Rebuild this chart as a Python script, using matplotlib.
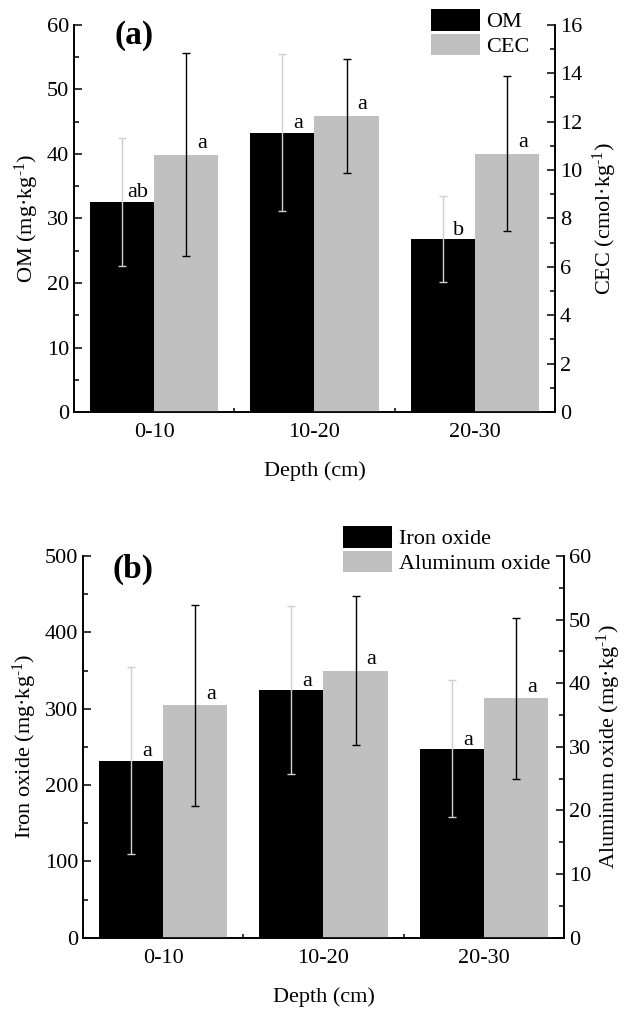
import matplotlib
matplotlib.use("Agg")
import matplotlib.pyplot as plt
import numpy as np
from matplotlib.patches import Patch
from matplotlib.ticker import MultipleLocator

plt.rcParams['font.family'] = ['Liberation Serif', 'DejaVu Serif']
plt.rcParams['mathtext.fontset'] = 'custom'
plt.rcParams['mathtext.rm'] = 'Liberation Serif'
plt.rcParams['mathtext.default'] = 'regular'
plt.rcParams['font.size'] = 16

# Data
depths = ['0-10', '10-20', '20-30']

om_mean = [32.6, 43.3, 26.8]
om_err = [9.9, 12.2, 6.6]
om_letters = ['ab', 'a', 'b']
cec_mean = [10.64, 12.22, 10.68]
cec_err = [4.2, 2.36, 3.2]
cec_letters = ['a', 'a', 'a']

fe_mean = [231.9, 324.5, 247.6]
fe_err = [122.7, 110.0, 90.0]
fe_letters = ['a', 'a', 'a']
al_mean = [36.5, 42.0, 37.6]
al_err = [15.8, 11.7, 12.7]
al_letters = ['a', 'a', 'a']

BLACK = 'black'
GRAY = '#c0c0c0'
W = 0.4


def style_axis(ax, side):
    ax.tick_params(axis='y', which='major', direction='in', length=6, width=1.1, labelsize=16)
    ax.tick_params(axis='y', which='minor', direction='in', length=3.5, width=1.1)
    if side == 'left':
        ax.tick_params(axis='x', which='major', direction='in', length=5, width=1.1, labelsize=16, pad=8)
        ax.tick_params(axis='x', which='minor', direction='in', length=3, width=1.1)
    for s in ax.spines.values():
        s.set_linewidth(1.2)
    ax.spines['top'].set_visible(False)


def panel(fig, rect, left_mean, left_err, left_let, right_mean, right_err, right_let,
          left_lim, left_major, right_lim, right_major, left_label, right_label,
          tag, tag_pos, legend_labels, leg_anchor, rpad):
    ax = fig.add_axes(rect)
    ax2 = ax.twinx()
    x = np.arange(len(depths))
    ax.bar(x - W / 2, left_mean, W, color=BLACK, zorder=2)
    ax.errorbar(x - W / 2, left_mean, yerr=left_err, fmt='none', ecolor='#d0d0d0',
                elinewidth=1, capsize=3, capthick=1, zorder=3)
    ax2.bar(x + W / 2, right_mean, W, color=GRAY, zorder=2)
    ax2.errorbar(x + W / 2, right_mean, yerr=right_err, fmt='none', ecolor='black',
                 elinewidth=1, capsize=3, capthick=1, zorder=3)
    for xi, m, t in zip(x - W / 2, left_mean, left_let):
        ax.annotate(t, (xi + 0.1, m), xytext=(0, 3), textcoords='offset points',
                    ha='center', va='baseline', fontsize=16, zorder=4)
    for xi, m, t in zip(x + W / 2, right_mean, right_let):
        ax2.annotate(t, (xi + 0.1, m), xytext=(0, 5), textcoords='offset points',
                     ha='center', va='baseline', fontsize=16, zorder=4)

    ax.set_xlim(-0.5, 2.5)
    ax.set_xticks(x)
    ax.set_xticklabels(depths)
    ax.xaxis.set_minor_locator(MultipleLocator(0.5))
    ax.set_ylim(*left_lim)
    ax.yaxis.set_major_locator(MultipleLocator(left_major))
    ax.yaxis.set_minor_locator(MultipleLocator(left_major / 2))
    ax2.set_ylim(*right_lim)
    ax2.yaxis.set_major_locator(MultipleLocator(right_major))
    ax2.yaxis.set_minor_locator(MultipleLocator(right_major / 2))
    style_axis(ax, 'left')
    style_axis(ax2, 'right')

    ax.set_xlabel('Depth (cm)', fontsize=16, labelpad=14)
    ax.set_ylabel(left_label, fontsize=16, labelpad=4)
    ax2.set_ylabel(right_label, fontsize=16, labelpad=rpad)

    ax.text(tag_pos[0], tag_pos[1], tag, transform=ax.transAxes, fontsize=24,
            fontweight='bold', ha='left', va='center')

    handles = [Patch(facecolor=BLACK, edgecolor='none'), Patch(facecolor=GRAY, edgecolor='none')]
    ax2.legend(handles, legend_labels, loc='upper left', bbox_to_anchor=leg_anchor,
               frameon=False, borderpad=0, borderaxespad=0, handlelength=2.2,
               handleheight=1.1, labelspacing=0.05, handletextpad=0.3, fontsize=16)
    return ax, ax2


def main():
    fig = plt.figure(figsize=(6.25, 10.1), dpi=100)

    panel(fig, [0.1184, 0.592, 0.7696, 0.3835],
          om_mean, om_err, om_letters, cec_mean, cec_err, cec_letters,
          (0, 60), 10, (0, 16), 2,
          r'OM (mg·kg$^{\text{-1}}$)', r'CEC (cmol·kg$^{\text{-1}}$)',
          '(a)', (0.085, 0.972), ['OM', 'CEC'], (0.742, 1.04), 6)

    panel(fig, [0.1328, 0.0716, 0.7696, 0.3779],
          fe_mean, fe_err, fe_letters, al_mean, al_err, al_letters,
          (0, 500), 100, (0, 60), 10,
          r'Iron oxide (mg·kg$^{\text{-1}}$)', r'Aluminum oxide (mg·kg$^{\text{-1}}$)',
          '(b)', (0.062, 0.966), ['Iron oxide', 'Aluminum oxide'], (0.5405, 1.078), 3)

    plt.savefig('out.png', dpi=100)


if __name__ == '__main__':
    main()
